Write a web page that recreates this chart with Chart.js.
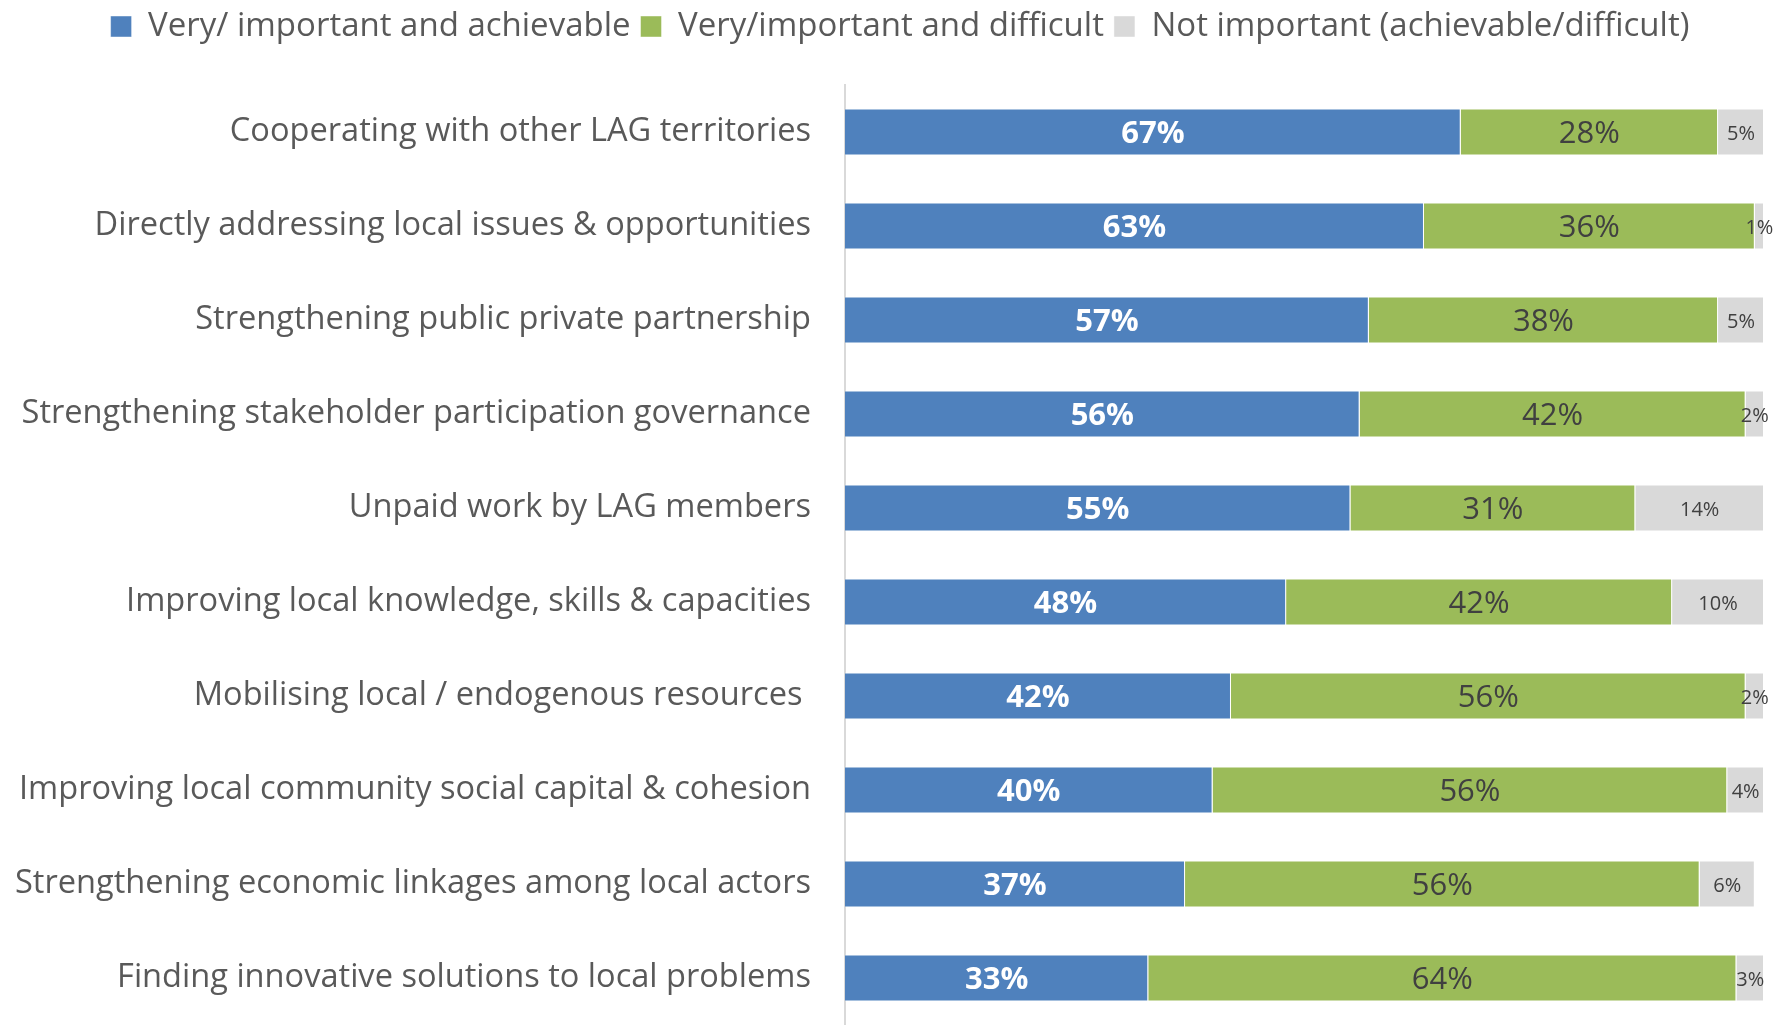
<!DOCTYPE html>
<html>
<head>
<meta charset="utf-8">
<script src="https://cdn.jsdelivr.net/npm/chart.js@4.4.1/dist/chart.umd.min.js"></script>
<style>
  html, body { margin: 0; padding: 0; background: #ffffff; overflow: hidden; }
  #wrap { width: 1785px; height: 1025px; position: relative; }
  #barChart { display: block; }
</style>
</head>
<body>
<div id="wrap"><canvas id="barChart" width="1785" height="1025"></canvas></div>
<script>
// Values (percent of respondents)
const categories = [
  "Cooperating with other LAG territories",
  "Directly addressing local issues & opportunities",
  "Strengthening public private partnership",
  "Strengthening stakeholder participation governance",
  "Unpaid work by LAG members",
  "Improving local knowledge, skills & capacities",
  "Mobilising local / endogenous resources ",
  "Improving local community social capital & cohesion",
  "Strengthening economic linkages among local actors",
  "Finding innovative solutions to local problems",
];
const achievable = [67, 63, 57, 56, 55, 48, 42, 40, 37, 33];
const difficult = [28, 36, 38, 42, 31, 42, 56, 56, 56, 64];
const notImportant = [5, 1, 5, 2, 14, 10, 2, 4, 6, 3];
const seriesNames = [
  "Very/ important and achievable",
  "Very/important and difficult",
  "Not important (achievable/difficult)",
];

const fontFamily = "'Open Sans', 'Liberation Sans', sans-serif";

// label styles per dataset
const labelStyles = [
  { color: "#ffffff", size: 31, weight: "bold" },
  { color: "#404040", size: 31, weight: "normal" },
  { color: "#404040", size: 20, weight: "normal" },
];

const barLabels = {
  id: "barLabels",
  afterDatasetsDraw(chart) {
    const ctx = chart.ctx;
    chart.data.datasets.forEach((ds, i) => {
      const meta = chart.getDatasetMeta(i);
      const st = labelStyles[i];
      ctx.save();
      ctx.font = `${st.weight} ${st.size}px ${fontFamily}`;
      ctx.fillStyle = st.color;
      ctx.textAlign = "center";
      ctx.textBaseline = "middle";
      meta.data.forEach((el, j) => {
        const cx = (el.x + el.base) / 2;
        ctx.fillText(ds.data[j] + "%", cx, el.y + 2);
      });
      ctx.restore();
    });
  },
};

// fixed legend band above the plot, nudged a bit to the right
const legendBand = {
  id: "legendBand",
  beforeInit(chart) {
    const fit = chart.legend.fit;
    chart.legend.fit = function () {
      fit.bind(chart.legend)();
      this.height = 85;
    };
  },
  afterLayout(chart) {
    chart.legend.left += 18;
    chart.legend.right += 18;
  },
};

Chart.defaults.font.family = fontFamily;

new Chart(document.getElementById("barChart").getContext("2d"), {
  type: "bar",
  data: {
    labels: categories,
    datasets: [
      {
        label: seriesNames[0],
        data: achievable,
        backgroundColor: "#4f81bd",
        borderColor: "rgba(255,255,255,0.45)",
        borderWidth: 1,
      },
      {
        label: seriesNames[1],
        data: difficult,
        backgroundColor: "#9bbb59",
        borderColor: "rgba(255,255,255,0.45)",
        borderWidth: 1,
      },
      {
        label: seriesNames[2],
        data: notImportant,
        backgroundColor: "#d9d9d9",
        borderColor: "rgba(255,255,255,0.45)",
        borderWidth: 1,
      },
    ],
  },
  options: {
    indexAxis: "y",
    responsive: false,
    animation: false,
    layout: {
      padding: { top: 0, left: 0, right: 21, bottom: 0 },
    },
    datasets: {
      bar: { barPercentage: 0.5, categoryPercentage: 1.0 },
    },
    scales: {
      x: {
        stacked: true,
        min: 0,
        max: 100,
        display: false,
        grid: { display: false },
      },
      y: {
        stacked: true,
        grid: { display: false, drawTicks: false },
        border: { display: true, color: "#d9d9d9", width: 2 },
        ticks: {
          color: "#595959",
          padding: 34,
          font: { size: 32.6 },
        },
        afterFit(scale) {
          scale.width = 845;
          scale.paddingTop = 0;
          scale.paddingBottom = 0;
        },
      },
    },
    plugins: {
      legend: {
        position: "top",
        labels: {
          color: "#595959",
          boxWidth: 21,
          boxHeight: 21,
          padding: 10,
          font: { size: 33 },
        },
      },
      tooltip: { enabled: false },
    },
  },
  plugins: [barLabels, legendBand],
});
</script>
</body>
</html>
